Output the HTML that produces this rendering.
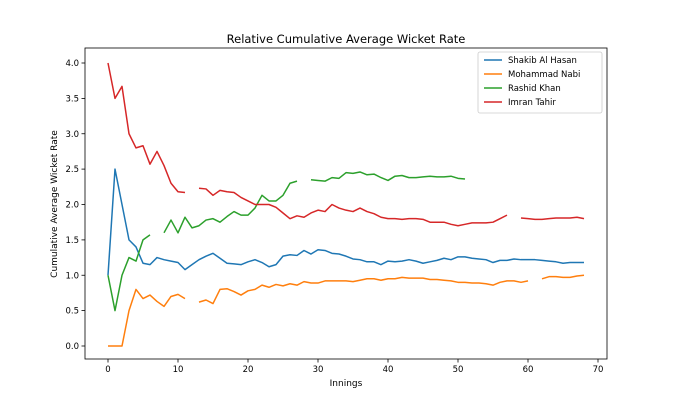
<!DOCTYPE html>
<html><head><meta charset="utf-8"><style>
body{margin:0;background:#fff;}
svg{display:block;font-family:"DejaVu Sans","Liberation Sans",sans-serif;}
</style></head><body>
<svg width="675" height="405" viewBox="0 0 675 405" xmlns="http://www.w3.org/2000/svg">
<rect width="675" height="405" fill="#fff"/>
<text x="346" y="43" text-anchor="middle" font-size="11.5" fill="#000">Relative Cumulative Average Wicket Rate</text>
<g fill="none" stroke-width="1.5" stroke-linejoin="round">
<g transform="translate(108,346) scale(7,-70.75)">
<polyline vector-effect="non-scaling-stroke" stroke="#1f77b4" points="0,1 1,2.5 2,2 3,1.5 4,1.4 5,1.17 6,1.15 7,1.25 8,1.22 9,1.2 10,1.18 11,1.08 12,1.15 13,1.22 14,1.27 15,1.31 16,1.24 17,1.17 18,1.16 19,1.15 20,1.19 21,1.22 22,1.18 23,1.12 24,1.15 25,1.27 26,1.29 27,1.28 28,1.35 29,1.3 30,1.36 31,1.35 32,1.31 33,1.3 34,1.27 35,1.23 36,1.22 37,1.19 38,1.19 39,1.15 40,1.2 41,1.19 42,1.2 43,1.22 44,1.2 45,1.17 46,1.19 47,1.21 48,1.24 49,1.22 50,1.26 51,1.26 52,1.24 53,1.23 54,1.22 55,1.18 56,1.21 57,1.21 58,1.23 59,1.22 60,1.22 61,1.22 62,1.21 63,1.2 64,1.19 65,1.17 66,1.18 67,1.18 68,1.18"/>
<polyline vector-effect="non-scaling-stroke" stroke="#ff7f0e" points="0,0 1,0 2,0 3,0.5 4,0.8 5,0.67 6,0.72 7,0.63 8,0.56 9,0.7 10,0.73 11,0.67"/>
<polyline vector-effect="non-scaling-stroke" stroke="#ff7f0e" points="13,0.62 14,0.65 15,0.6 16,0.8 17,0.81 18,0.77 19,0.72 20,0.78 21,0.8 22,0.86 23,0.83 24,0.87 25,0.85 26,0.88 27,0.86 28,0.91 29,0.89 30,0.89 31,0.92 32,0.92 33,0.92 34,0.92 35,0.91 36,0.93 37,0.95 38,0.95 39,0.93 40,0.95 41,0.95 42,0.97 43,0.96 44,0.96 45,0.96 46,0.94 47,0.94 48,0.93 49,0.92 50,0.9 51,0.9 52,0.89 53,0.89 54,0.88 55,0.86 56,0.9 57,0.92 58,0.92 59,0.9 60,0.92"/>
<polyline vector-effect="non-scaling-stroke" stroke="#ff7f0e" points="62,0.95 63,0.98 64,0.98 65,0.97 66,0.97 67,0.99 68,1.0"/>
<polyline vector-effect="non-scaling-stroke" stroke="#2ca02c" points="0,1 1,0.5 2,1 3,1.25 4,1.2 5,1.5 6,1.57"/>
<polyline vector-effect="non-scaling-stroke" stroke="#2ca02c" points="8,1.6 9,1.78 10,1.6 11,1.82 12,1.67 13,1.7 14,1.78 15,1.8 16,1.75 17,1.83 18,1.9 19,1.85 20,1.85 21,1.95 22,2.13 23,2.05 24,2.05 25,2.13 26,2.3 27,2.33"/>
<polyline vector-effect="non-scaling-stroke" stroke="#2ca02c" points="29,2.35 30,2.34 31,2.33 32,2.38 33,2.37 34,2.45 35,2.44 36,2.46 37,2.42 38,2.43 39,2.38 40,2.34 41,2.4 42,2.41 43,2.38 44,2.38 45,2.39 46,2.4 47,2.39 48,2.39 49,2.4 50,2.37 51,2.36"/>
<polyline vector-effect="non-scaling-stroke" stroke="#d62728" points="0,4 1,3.5 2,3.67 3,3 4,2.8 5,2.83 6,2.57 7,2.75 8,2.55 9,2.3 10,2.18 11,2.17"/>
<polyline vector-effect="non-scaling-stroke" stroke="#d62728" points="13,2.23 14,2.22 15,2.13 16,2.2 17,2.18 18,2.17 19,2.1 20,2.05 21,2 22,2 23,2 24,1.96 25,1.88 26,1.8 27,1.84 28,1.82 29,1.88 30,1.92 31,1.9 32,2 33,1.95 34,1.92 35,1.9 36,1.95 37,1.9 38,1.87 39,1.82 40,1.8 41,1.8 42,1.79 43,1.8 44,1.8 45,1.79 46,1.75 47,1.75 48,1.75 49,1.72 50,1.7 51,1.72 52,1.74 53,1.74 54,1.74 55,1.75 56,1.8 57,1.85"/>
<polyline vector-effect="non-scaling-stroke" stroke="#d62728" points="59,1.81 60,1.8 61,1.79 62,1.79 63,1.8 64,1.81 65,1.81 66,1.81 67,1.82 68,1.8"/>
</g>
</g>
<rect x="85" y="48" width="522" height="311" fill="none" stroke="#000" stroke-width="0.8"/>
<g stroke="#000" stroke-width="0.8">
<line x1="108" y1="359" x2="108" y2="362.5"/><line x1="178" y1="359" x2="178" y2="362.5"/><line x1="248" y1="359" x2="248" y2="362.5"/><line x1="318" y1="359" x2="318" y2="362.5"/><line x1="388" y1="359" x2="388" y2="362.5"/><line x1="458" y1="359" x2="458" y2="362.5"/><line x1="528" y1="359" x2="528" y2="362.5"/><line x1="598" y1="359" x2="598" y2="362.5"/>
<line x1="81.5" y1="346" x2="85" y2="346"/><line x1="81.5" y1="310.6" x2="85" y2="310.6"/><line x1="81.5" y1="275.25" x2="85" y2="275.25"/><line x1="81.5" y1="239.9" x2="85" y2="239.9"/><line x1="81.5" y1="204.5" x2="85" y2="204.5"/><line x1="81.5" y1="169.1" x2="85" y2="169.1"/><line x1="81.5" y1="133.75" x2="85" y2="133.75"/><line x1="81.5" y1="98.4" x2="85" y2="98.4"/><line x1="81.5" y1="63" x2="85" y2="63"/>
</g>
<g font-size="8.5" fill="#000" text-anchor="middle">
<text x="108" y="372">0</text><text x="178" y="372">10</text><text x="248" y="372">20</text><text x="318" y="372">30</text><text x="388" y="372">40</text><text x="458" y="372">50</text><text x="528" y="372">60</text><text x="598" y="372">70</text>
</g>
<g font-size="8.5" fill="#000" text-anchor="end">
<text x="79" y="349">0.0</text><text x="79" y="313.6">0.5</text><text x="79" y="278.25">1.0</text><text x="79" y="242.9">1.5</text><text x="79" y="207.5">2.0</text><text x="79" y="172.1">2.5</text><text x="79" y="136.75">3.0</text><text x="79" y="101.4">3.5</text><text x="79" y="66">4.0</text>
</g>
<text x="346" y="386" text-anchor="middle" font-size="9" fill="#000">Innings</text>
<text transform="translate(57,204) rotate(-90)" text-anchor="middle" font-size="9" fill="#000">Cumulative Average Wicket Rate</text>
<rect x="478" y="52" width="124" height="61" fill="#fff" stroke="#ccc" stroke-width="0.8" rx="2"/>
<g stroke-width="1.5">
<line x1="484" y1="60" x2="502" y2="60" stroke="#1f77b4"/>
<line x1="484" y1="74" x2="502" y2="74" stroke="#ff7f0e"/>
<line x1="484" y1="88" x2="502" y2="88" stroke="#2ca02c"/>
<line x1="484" y1="102" x2="502" y2="102" stroke="#d62728"/>
</g>
<g font-size="8.5" fill="#000">
<text x="508" y="63">Shakib Al Hasan</text>
<text x="508" y="77">Mohammad Nabi</text>
<text x="508" y="91">Rashid Khan</text>
<text x="508" y="105">Imran Tahir</text>
</g>
</svg>
</body></html>
